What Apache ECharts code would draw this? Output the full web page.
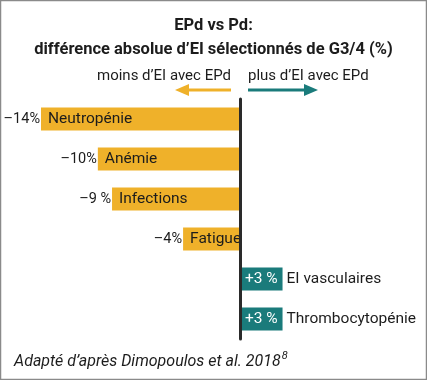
<!DOCTYPE html>
<html><head><meta charset="utf-8">
<script src="https://cdn.jsdelivr.net/npm/echarts@6/dist/echarts.min.js"></script>
<style>html,body{margin:0;padding:0;background:#fff}#c{width:427px;height:380px}</style>
</head><body><div id="c"></div>
<script>
const categories = ['Neutropénie','Anémie','Infections','Fatigue','EI vasculaires','Thrombocytopénie'];
const values = [-14, -10, -9, -4, 3, 3];
const valueLabels = ['–14%','–10%','–9 %','–4%','+3 %','+3 %'];
const titleLines = ['EPd vs Pd:', 'différence absolue d’EI sélectionnés de G3/4 (%)'];
const arrowLabels = ['moins d’EI avec EPd', 'plus d’EI avec EPd'];
const sourceText = 'Adapté d’après Dimopoulos et al. 2018';
const sourceSup = '8';

const ORANGE = '#EFB12A', TEAL = '#1A7B7B', DARK = '#1c1c1c';
const FONT = 'Roboto';

const chart = echarts.init(document.getElementById('c'));
const mainData = values.map((v, i) => ({
  value: v,
  itemStyle: { color: v < 0 ? ORANGE : TEAL },
  label: v < 0
    ? { show: true, position: 'insideLeft', distance: 7, formatter: categories[i], color: DARK }
    : { show: true, position: 'insideLeft', distance: 5, formatter: valueLabels[i], color: '#fff' }
}));
const sideData = values.map((v, i) => ({
  value: v,
  label: v < 0
    ? { show: true, position: 'left', distance: 1, formatter: valueLabels[i], color: DARK }
    : { show: true, position: 'right', distance: 4, formatter: categories[i], color: DARK, fontSize: 15.5 }
}));

chart.setOption({
  animation: false,
  textStyle: { fontFamily: FONT },
  title: [
    { text: titleLines[0], left: 'center', top: 12, textStyle: { fontFamily: FONT, fontSize: 16.5, fontWeight: 'bold', color: DARK } },
    { text: titleLines[1], left: 'center', top: 36, textStyle: { fontFamily: FONT, fontSize: 16.5, fontWeight: 'bold', color: DARK } }
  ],
  grid: { left: 41, right: 45, top: 99, bottom: 41 },
  xAxis: { type: 'value', min: -14, max: 10, show: false },
  yAxis: {
    type: 'category', data: categories, inverse: true,
    axisLine: { show: true, onZero: true, lineStyle: { color: '#2a2a2a', width: 3 } },
    axisTick: { show: false }, axisLabel: { show: false }, splitLine: { show: false }, z: 10
  },
  series: [
    { type: 'bar', data: mainData, barWidth: 23, label: { fontFamily: FONT, fontSize: 15.5 } },
    { type: 'bar', data: sideData, barWidth: 23, barGap: '-100%', itemStyle: { color: 'rgba(0,0,0,0)' },
      label: { fontFamily: FONT, fontSize: 14.5 }, z: 3 }
  ],
  graphic: [
    { type: 'rect', shape: { x: 0.5, y: 0.5, width: 426, height: 379 }, style: { fill: 'none', stroke: '#8a8a8a', lineWidth: 1.5 }, silent: true },
    { type: 'text', style: { text: arrowLabels[0], x: 231, y: 76, align: 'right', verticalAlign: 'middle', font: '15px Roboto', fill: DARK } },
    { type: 'text', style: { text: arrowLabels[1], x: 248, y: 76, align: 'left', verticalAlign: 'middle', font: '15px Roboto', fill: DARK } },
    { type: 'line', shape: { x1: 231, y1: 90, x2: 186, y2: 90 }, style: { stroke: ORANGE, lineWidth: 3 } },
    { type: 'polygon', shape: { points: [[175, 90], [189, 84], [189, 96]] }, style: { fill: ORANGE } },
    { type: 'line', shape: { x1: 248, y1: 90, x2: 306, y2: 90 }, style: { stroke: TEAL, lineWidth: 3 } },
    { type: 'polygon', shape: { points: [[318, 90], [304, 84], [304, 96]] }, style: { fill: TEAL } },
    { type: 'text', style: {
        text: '{a|' + sourceText + '}{s|' + sourceSup + '}', x: 14, y: 360, verticalAlign: 'middle',
        rich: {
          a: { font: 'italic 16px Roboto', fill: DARK, verticalAlign: 'bottom' },
          s: { font: 'italic 11px Roboto', fill: DARK, verticalAlign: 'top', padding: [0, 0, 8, 1] }
        } } }
  ]
});
</script></body></html>
